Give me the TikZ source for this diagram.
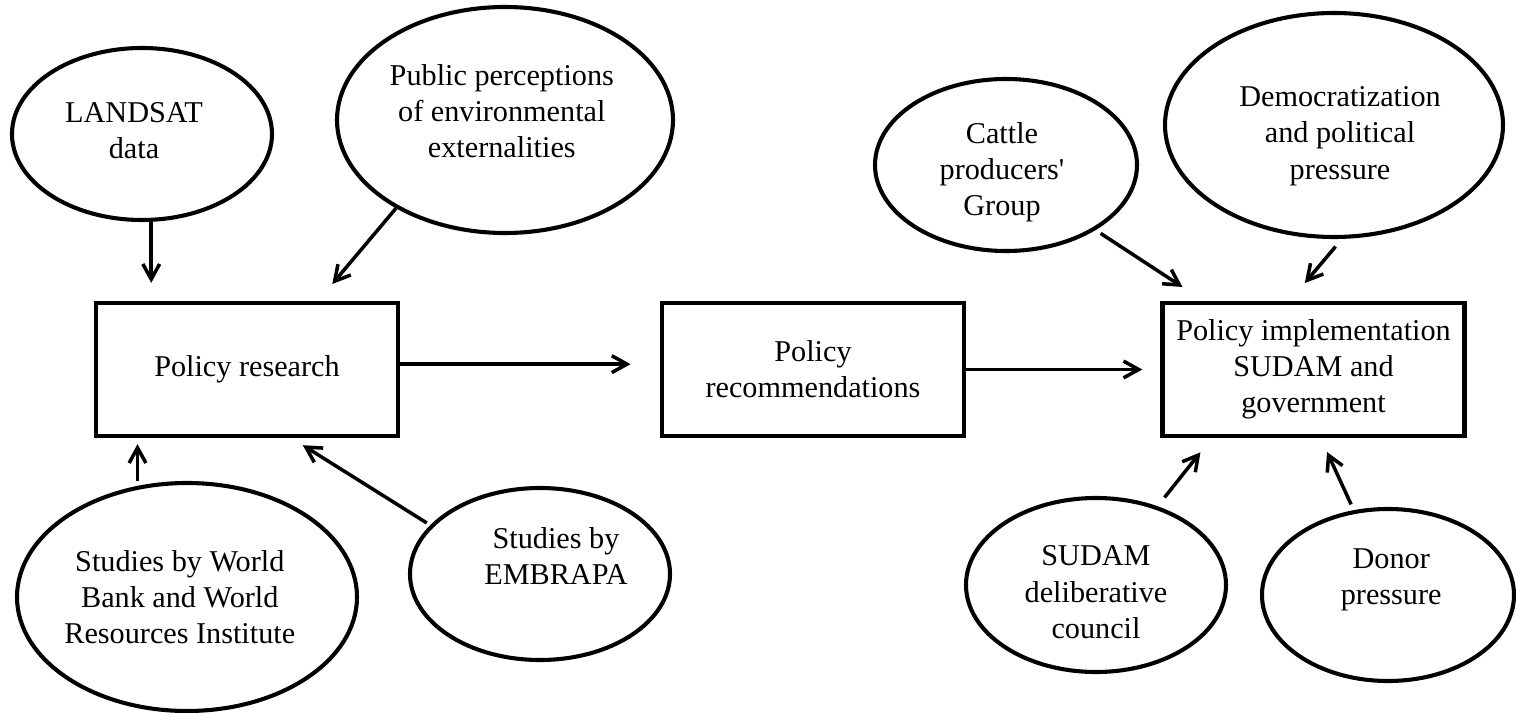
\documentclass[tikz,border=0pt]{standalone}
\usepackage{fontspec}
\setmainfont{Liberation Serif}
\usetikzlibrary{
	arrows.meta,
	calc,
	shapes.geometric
}

\newcommand{\diagfont}{\fontsize{21.5}{25.8}\selectfont}

\tikzset{
	bubble/.style={draw, ellipse, line width=2.9pt, inner sep=0pt},
	bubbletext/.style={align=center, font=\diagfont, inner sep=0pt},
	stage/.style={draw, rectangle, line width=3.1pt, minimum width=7.55cm, minimum height=3.325cm, align=center, font=\diagfont},
	flow/.style={-{Straight Barb[length=0.38cm,width=0.42cm]}, line width=2.5pt}
}

\begin{document}
\begin{tikzpicture}
		\useasboundingbox (0,0) rectangle (37.9,17.8);
		\node[stage] (res) at (6.175,8.5625) {Policy research};
		\node[stage] (rec) at (20.325,8.5625) {Policy\\recommendations};
		\node[stage] (impl) at (32.8375,8.5625) {Policy implementation\\SUDAM and\\government};
		\foreach \n/\cx/\cy/\w/\h in {land/3.55/14.45/6.5/4.3, pub/12.625/14.8/8.4/5.65, cat/25.15/13.675/6.55/4.3, dem/33.35/14.675/8.45/5.6, wb/4.675/2.875/8.5/5.7, emb/13.5/3.45/6.5/4.3, sud/27.4/3.175/6.5/4.35, don/34.7/2.925/6.3/4.3}
		\node[bubble, minimum width=\w cm, minimum height=\h cm] (\n) at (\cx,\cy) {};
		\foreach \n/\dx/\dy/\t in {land/-0.2/0.08/{LANDSAT\\data}, pub/-0.08/0.22/{Public perceptions\\of environmental\\externalities}, cat/-0.1/-0.18/{Cattle\\producers\textquotesingle\\Group}, dem/0.15/-0.28/{Democratization\\and political\\pressure}, wb/-0.18/0/{Studies by World\\Bank and World\\Resources Institute}, emb/0.4/0.45/{Studies by\\EMBRAPA}, sud/0/-0.18/{SUDAM\\deliberative\\council}, don/0.08/0.38/{Donor\\pressure}}
		\node[bubbletext] (\n-t) at ([shift={(\dx,\dy)}]\n.center) {\t};
		\draw[flow, shorten >=0.45cm] (land.-84) -- (land.-84 |- res.north);
		\draw[flow, shorten >=0.55cm] (pub.219) -- (res.44);
		\draw[flow, shorten <=0.12cm, shorten >=0.15cm] (wb.114) -- (wb.114 |- res.south);
		\draw[flow, shorten <=0.1cm, shorten >=0.33cm] (emb.156) -- (res.-57);
		\draw[flow, shorten >=0.73cm] (res.2) -- (res.2 -| rec.west);
		\draw[flow, shorten >=0.45cm] (rec.east) -- (rec.east -| impl.west);
		\draw[flow, shorten <=0.15cm, shorten >=0.63cm] (cat.-36) -- (impl.148);
		\draw[flow, shorten <=0.25cm, shorten >=0.58cm] (dem.-86) -- (impl.109);
		\draw[flow, shorten <=0.28cm, shorten >=0.45cm] (sud.52) -- (impl.214);
		\draw[flow, shorten <=0.16cm, shorten >=0.38cm] (don.112) -- (impl.-84);
	\end{tikzpicture}
\end{document}
